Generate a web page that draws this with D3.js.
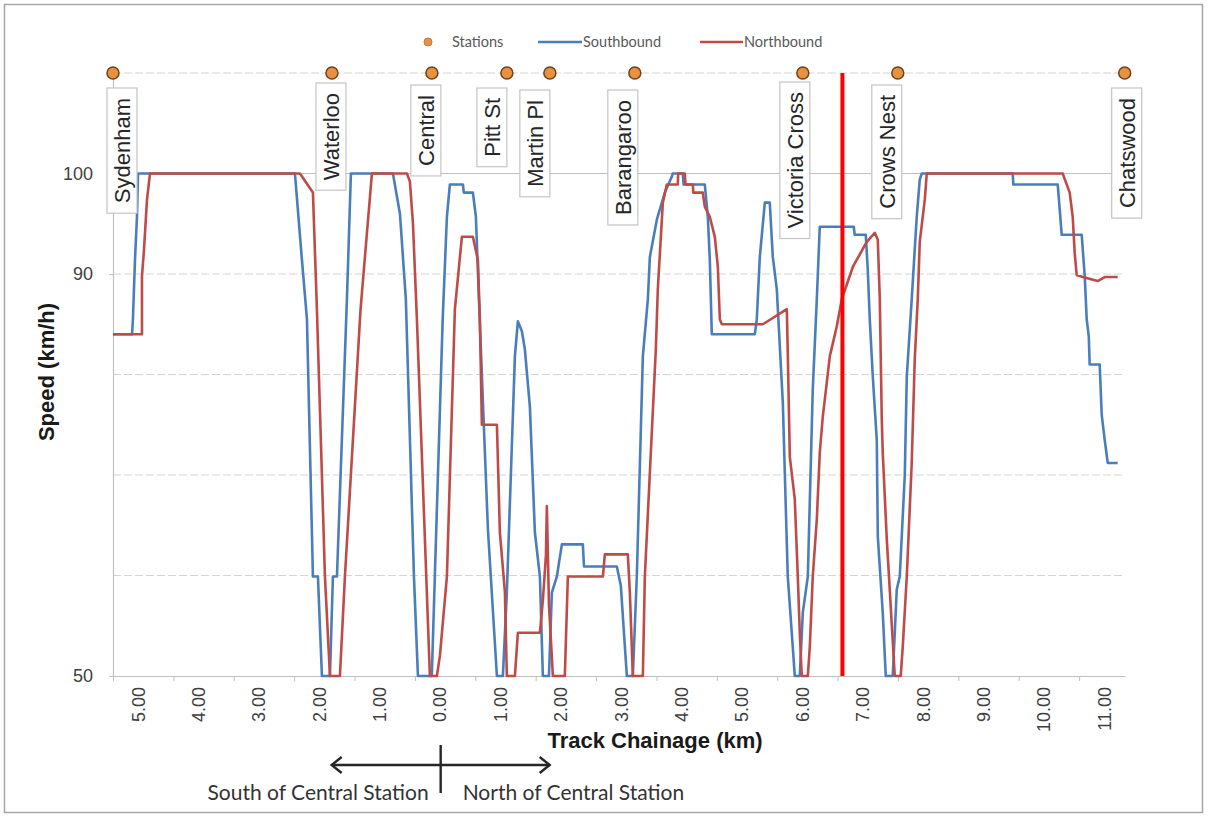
<!DOCTYPE html>
<html>
<head>
<meta charset="utf-8">
<script src="https://cdn.jsdelivr.net/npm/d3@7"></script>
<style>
  body { margin: 0; background: #fff; }
  svg { display: block; }
</style>
</head>
<body>
<svg id="chart" width="1208" height="818"></svg>
<script>
// position along the plotted route (km from the Sydenham end), speed in km/h
const southbound = [
  [0,84],[0.315,84],[0.33,85.5],[0.364,91.4],[0.397,95.7],[0.414,100],
  [3.013,100],[3.129,91.4],[3.212,85.5],[3.311,59.9],[3.394,59.9],[3.46,50],[3.593,50],[3.642,59.9],[3.709,59.9],[3.874,87.5],[3.94,100],
  [4.636,100],[4.752,96],[4.85,87.5],[4.984,59.9],[5.05,50],[5.28,50],[5.33,59.9],[5.46,85.5],[5.53,95.7],[5.579,98.9],[5.795,98.9],[5.81,98.1],[5.96,98.1],
  [6.01,95.7],[6.06,87.5],[6.209,64.6],[6.358,50],[6.457,50],[6.523,58.4],[6.656,81.8],[6.705,85.3],[6.772,84.3],[6.821,82.5],[6.904,76.8],[6.987,64.3],[7.07,59.9],[7.119,50],
  [7.22,50],[7.268,58.3],[7.351,59.9],[7.434,63.1],[7.781,63.1],[7.8,60.9],[8.344,60.9],[8.41,59],[8.51,50],[8.609,50],[8.675,59.9],[8.775,81.8],[8.858,87.5],[8.891,91.7],
  [9.007,95.4],[9.139,98.1],[9.255,99.7],[9.27,100],[9.437,100],[9.45,98.9],[9.801,98.9],[9.851,95.7],[9.884,91.4],[9.917,84],
  [10.629,84],[10.662,85.5],[10.712,91.7],[10.795,97.1],[10.877,97.1],[10.927,91.7],[10.993,88.5],[11.093,77.2],[11.175,59.9],[11.258,52.9],[11.291,50],[11.374,50],
  [11.424,56.3],[11.507,59.9],[11.589,78.5],[11.656,87.5],[11.705,94.7],[12.268,94.7],[12.283,93.9],[12.467,93.9],[12.5,90.4],[12.533,85.5],[12.583,79.8],[12.649,73.5],
  [12.666,63.9],[12.748,56.3],[12.798,50],[12.914,50],[12.98,58.6],[13.03,59.9],[13.113,70],[13.146,79.8],[13.228,87.5],[13.311,95.7],[13.361,99.4],[13.394,100],
  [14.901,100],[14.91,98.9],[15.646,98.9],[15.712,93.9],[16.043,93.9],[16.093,89.8],[16.126,85.5],[16.16,83.8],[16.175,81],[16.341,81],[16.374,76],[16.424,73.5],[16.474,71.2],[16.639,71.2]
]

const northbound = [
  [0,84],[0.48,84],[0.48,89.8],[0.513,92.4],[0.563,97.4],[0.613,100],
  [3.096,100],[3.311,98.1],[3.377,86.5],[3.51,59.9],[3.593,50],[3.758,50],[3.841,59.9],[4.1,86.5],[4.288,100],
  [4.868,100],[4.917,99.2],[4.967,95.1],[5.033,85.5],[5.248,50],[5.364,50],[5.414,52],[5.53,59.9],[5.662,86.5],[5.778,93.7],[5.96,93.7],
  [6.043,91.4],[6.076,85.5],[6.109,75],[6.358,75],[6.407,64.3],[6.49,58.4],[6.523,50],[6.656,50],[6.689,52.9],[6.705,54.3],[7.07,54.3],[7.12,57.6],[7.17,62],[7.185,66.9],[7.22,57.1],[7.285,50],
  [7.483,50],[7.533,59.9],[8.113,59.9],[8.146,62.1],[8.526,62.1],[8.56,58.3],[8.609,50],[8.775,50],[8.808,59.9],[8.99,82.5],[9.023,88.5],[9.106,97.1],[9.172,98.9],
  [9.354,98.9],[9.36,100],[9.47,100],[9.48,98.9],[9.603,98.9],[9.61,98.1],[9.768,98.1],[9.801,96.7],[9.884,95.7],[9.967,93.7],[10.017,90.7],[10.05,85.5],[10.083,85],
  [10.762,85],[11.159,86.5],[11.175,82.2],[11.209,71.8],[11.291,67.6],[11.341,59.9],[11.374,54.3],[11.407,50],[11.507,50],[11.54,52.9],[11.589,59.9],[11.656,65.6],
  [11.705,72.2],[11.755,75.8],[11.821,79.2],[11.871,81.8],[11.987,84.8],[12.07,87.5],[12.252,90.7],[12.483,93.2],[12.616,94.1],[12.666,93.4],[12.699,87.5],[12.732,75.5],
  [12.748,72.2],[12.815,63.6],[12.864,58.6],[12.947,50],[13.046,50],[13.079,52.9],[13.146,59.9],[13.228,71.2],[13.278,81.5],[13.328,87.5],[13.361,93.2],[13.444,97.4],[13.477,100],
  [15.728,100],[15.844,98.1],[15.894,95.7],[15.927,92.1],[15.96,89.9],[16.06,89.7],[16.308,89.3],[16.424,89.7],[16.639,89.7]
]

const stationNames = ["Sydenham", "Waterloo", "Central", "Pitt St", "Martin Pl", "Barangaroo", "Victoria Cross", "Crows Nest", "Chatswood"]
const stationPos = [0, 3.626, 5.281, 6.523, 7.235, 8.642, 11.424, 12.997, 16.755]
const stationSpeed = 110

const chainageLabels = [5, 4, 3, 2, 1, 0, 1, 2, 3, 4, 5, 6, 7, 8, 9, 10, 11]
const speedLabels = [50, 90, 100]
const gridSpeeds = [60, 70, 80, 90, 110]
const markerPos = 12.08

// label box nudges (px) as placed by hand in the original
const labelNudge = [9, -1, -6, -15, -15, -12, -8, -11, 2]
const labelTop = [88, 83, 85, 88, 90, 90, 82, 85, 88]

const blue = "#4a7ebb"
const red = "#be4b48"
const axisGrey = "#bfbfbf"
const arial = "Arial, 'Liberation Sans', sans-serif"
const calibri = "Lato, 'Open Sans', sans-serif"

const svg = d3.select("#chart")

const x = d3.scaleLinear().domain([0, 16.76]).range([113, 1125])
const y = d3.scaleLinear().domain([50, 110]).range([676, 73])

// outer frame
svg.append("rect")
    .attr("x", 4.5).attr("y", 4.5)
    .attr("width", 1198).attr("height", 808)
    .attr("fill", "none")
    .attr("stroke", "#a6a6a6")
    .attr("stroke-width", 1.5)

// grid
svg.append("g").selectAll("line")
    .data(gridSpeeds)
    .join("line")
    .attr("x1", x(0)).attr("x2", x(16.76))
    .attr("y1", d => y(d)).attr("y2", d => y(d))
    .attr("stroke", "#d4d4d4")
    .attr("stroke-dasharray", "8,3")

svg.append("line")
    .attr("x1", x(0)).attr("x2", x(16.76))
    .attr("y1", y(100)).attr("y2", y(100))
    .attr("stroke", axisGrey)
    .attr("stroke-width", 1.2)

// y axis
const yAxis = svg.append("g")
    .attr("transform", `translate(${x(0)},0)`)
    .call(d3.axisLeft(y).tickValues(speedLabels).tickSize(4).tickPadding(16).tickSizeOuter(0))
yAxis.select(".domain").attr("stroke", axisGrey).attr("stroke-width", 1.2)
yAxis.selectAll(".tick line").attr("stroke", axisGrey)
yAxis.selectAll("text")
    .attr("font-family", arial)
    .attr("font-size", 18)
    .attr("fill", "#404040")

// x axis: tick marks on whole km, labels sit between them
const xAxis = svg.append("g")
    .attr("transform", `translate(0,${y(50)})`)
    .call(d3.axisBottom(x).tickValues(d3.range(17)).tickSize(5).tickFormat("").tickSizeOuter(0))
xAxis.select(".domain").attr("stroke", axisGrey).attr("stroke-width", 1.2)
xAxis.selectAll(".tick line").attr("stroke", axisGrey)

const xLabels = svg.append("g")
    .attr("transform", `translate(0,${y(50)})`)
    .call(d3.axisBottom(x)
        .tickValues(chainageLabels.map((d, i) => i + 0.41))
        .tickSize(0)
        .tickFormat((d, i) => chainageLabels[i].toFixed(2)))
xLabels.select(".domain").remove()
xLabels.selectAll("text")
    .attr("transform", "rotate(-90)")
    .attr("text-anchor", "end")
    .attr("x", -11)
    .attr("y", 0)
    .attr("dy", "0.35em")
    .attr("font-family", arial)
    .attr("font-size", 18)
    .attr("fill", "#404040")

// axis titles
svg.append("text")
    .attr("transform", "translate(46,372) rotate(-90)")
    .attr("text-anchor", "middle")
    .attr("dy", "0.35em")
    .attr("font-family", arial)
    .attr("font-weight", "bold")
    .attr("font-size", 22)
    .attr("fill", "#1a1a1a")
    .text("Speed (km/h)")

svg.append("text")
    .attr("x", 655).attr("y", 748)
    .attr("text-anchor", "middle")
    .attr("font-family", arial)
    .attr("font-weight", "bold")
    .attr("font-size", 22)
    .attr("fill", "#1a1a1a")
    .text("Track Chainage (km)")

// speed profiles
const line = d3.line()
    .x(d => x(d[0]))
    .y(d => y(d[1]))

svg.append("path")
    .datum(southbound)
    .attr("d", line)
    .attr("fill", "none")
    .attr("stroke", blue)
    .attr("stroke-width", 2.6)
    .attr("stroke-linejoin", "round")

svg.append("path")
    .datum(northbound)
    .attr("d", line)
    .attr("fill", "none")
    .attr("stroke", red)
    .attr("stroke-width", 2.6)
    .attr("stroke-linejoin", "round")

// red position marker
svg.append("line")
    .attr("x1", x(markerPos)).attr("x2", x(markerPos))
    .attr("y1", y(110)).attr("y2", y(50))
    .attr("stroke", "#ff0000")
    .attr("stroke-width", 4)

// stations
const stations = stationNames.map((name, i) => ({ name: name, pos: stationPos[i] }))

svg.append("g").selectAll("circle")
    .data(stations)
    .join("circle")
    .attr("cx", d => x(d.pos))
    .attr("cy", y(stationSpeed))
    .attr("r", 6)
    .attr("fill", "#e8923f")
    .attr("stroke", "#6b4320")
    .attr("stroke-width", 1.5)

const lab = svg.append("g").selectAll("g")
    .data(stations)
    .join("g")
    .attr("transform", (d, i) => `translate(${x(d.pos) + labelNudge[i]},${labelTop[i]})`)

const boxes = lab.append("rect")
    .attr("x", -15)
    .attr("y", 0)
    .attr("width", 30)
    .attr("fill", "#fff")
    .attr("stroke", "#c4c4c4")
    .attr("stroke-width", 1.2)

const labTexts = lab.append("text")
    .attr("transform", "rotate(-90)")
    .attr("x", -10)
    .attr("y", 0)
    .attr("dy", "0.36em")
    .attr("text-anchor", "end")
    .attr("font-family", arial)
    .attr("font-size", 22)
    .attr("fill", "#262626")
    .text(d => d.name)

labTexts.each(function (d) {
    d.len = this.getComputedTextLength()
})
boxes.attr("height", d => d.len + 20)

// legend
const legend = svg.append("g").attr("font-family", calibri).attr("font-size", 14.5).attr("fill", "#595959")
legend.append("circle").attr("cx", 428).attr("cy", 42).attr("r", 4).attr("fill", "#e8923f").attr("stroke", "#c8773a")
legend.append("text").attr("x", 452).attr("y", 42).attr("dy", "0.35em").text("Stations")
legend.append("line").attr("x1", 538).attr("x2", 582).attr("y1", 42).attr("y2", 42).attr("stroke", blue).attr("stroke-width", 2.6)
legend.append("text").attr("x", 583).attr("y", 42).attr("dy", "0.35em").text("Southbound")
legend.append("line").attr("x1", 700).attr("x2", 743).attr("y1", 42).attr("y2", 42).attr("stroke", red).attr("stroke-width", 2.6)
legend.append("text").attr("x", 744).attr("y", 42).attr("dy", "0.35em").text("Northbound")

// south / north of Central annotation
const cx0 = x(5.41)
const note = svg.append("g").attr("stroke", "#262626").attr("stroke-width", 2.4).attr("fill", "none")
note.append("line").attr("x1", cx0 - 108).attr("x2", cx0 + 110).attr("y1", 765).attr("y2", 765)
note.append("line").attr("x1", cx0 + 1).attr("x2", cx0 + 1).attr("y1", 745).attr("y2", 793)
note.append("polyline").attr("points", `${cx0 - 98},757 ${cx0 - 108},765 ${cx0 - 98},773`)
note.append("polyline").attr("points", `${cx0 + 100},757 ${cx0 + 110},765 ${cx0 + 100},773`)

svg.append("text")
    .attr("x", cx0 - 11).attr("y", 793)
    .attr("dy", "0.35em")
    .attr("text-anchor", "end")
    .attr("font-family", calibri)
    .attr("font-size", 21)
    .attr("fill", "#333")
    .text("South of Central Station")

svg.append("text")
    .attr("x", cx0 + 23).attr("y", 793)
    .attr("dy", "0.35em")
    .attr("font-family", calibri)
    .attr("font-size", 21)
    .attr("fill", "#333")
    .text("North of Central Station")
</script>
</body>
</html>
